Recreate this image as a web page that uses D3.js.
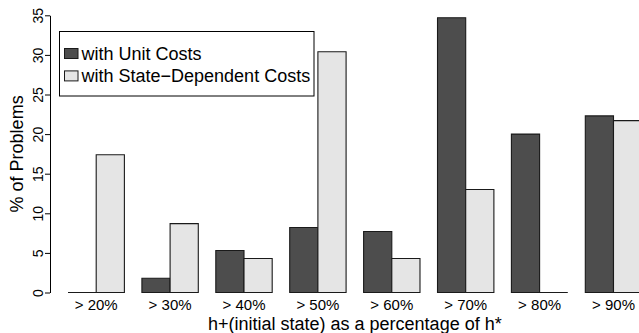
<!DOCTYPE html>
<html>
<head>
<meta charset="utf-8">
<script src="https://cdn.jsdelivr.net/npm/d3@7"></script>
<style>
  html, body { margin: 0; padding: 0; background: #fff; }
  svg { display: block; font-family: "Liberation Sans", Arial, Helvetica, sans-serif; }
</style>
</head>
<body>
<svg id="chart" width="639" height="333"></svg>
<script>
// ---- data ----
const categories = ["> 20%", "> 30%", "> 40%", "> 50%", "> 60%", "> 70%", "> 80%", "> 90%"];
const seriesNames = ["with Unit Costs", "with State\u2212Dependent Costs"];
const unitCosts = [0, 1.8, 5.3, 8.2, 7.7, 34.7, 20.0, 22.3];
const stateDependentCosts = [17.4, 8.7, 4.3, 30.4, 4.3, 13.0, 0, 21.7];
const yTicks = [0, 5, 10, 15, 20, 25, 30, 35];
const yTitle = "% of Problems";
const xTitle = "h+(initial state) as a percentage of h*";
const colors = ["#4d4d4d", "#e5e5e5"];

const seriesValues = [unitCosts, stateDependentCosts];

// ---- layout ----
const svg = d3.select("#chart");
const axisX = 50;
const y = d3.scaleLinear().domain([0, 35]).range([292.5, 15.3]);

const x0 = d3.scaleBand()
  .domain(categories)
  .range([59.25, 650.45])
  .paddingInner(0.237)
  .paddingOuter(0.1185);

const x1 = d3.scaleBand()
  .domain(d3.range(seriesValues.length))
  .range([0, x0.bandwidth()])
  .padding(0);

// ---- bars ----
const groups = svg.append("g").selectAll("g")
  .data(categories)
  .join("g")
  .attr("transform", d => `translate(${x0(d)},0)`);

groups.selectAll("path")
  .data((c, i) => seriesValues.map((vals, s) => ({ s, v: vals[i] })))
  .join("path")
  .attr("d", d => {
    const xa = x1(d.s), xb = x1(d.s) + x1.bandwidth();
    const ya = y(0), yb = y(d.v);
    return `M${xa},${ya}L${xa},${yb}L${xb},${yb}L${xb},${ya}Z`;
  })
  .attr("fill", d => colors[d.s])
  .attr("stroke", "#1a1a1a")
  .attr("stroke-width", 1.1);

// ---- y axis ----
const yAxis = svg.append("g")
  .attr("transform", `translate(${axisX},0)`)
  .call(d3.axisLeft(y).tickValues(yTicks).tickSize(5).tickSizeOuter(0).tickFormat(d3.format("d")));
yAxis.select(".domain").attr("stroke", "#000").attr("stroke-width", 1);
yAxis.selectAll(".tick line").attr("stroke", "#000").attr("stroke-width", 1);
yAxis.selectAll(".tick text")
  .attr("x", 0).attr("y", 0).attr("dy", 0)
  .attr("transform", "translate(-7,0) rotate(-90)")
  .attr("text-anchor", "middle")
  .attr("fill", "#000")
  .style("font-size", "14px")
  .style("font-family", "'Liberation Sans', Arial, sans-serif");

// ---- x category labels ----
svg.append("g").selectAll("text")
  .data(categories)
  .join("text")
  .attr("x", d => x0(d) + x0.bandwidth() / 2)
  .attr("y", 310)
  .attr("text-anchor", "middle")
  .style("font-size", "15px")
  .text(d => d);

// ---- titles ----
svg.append("text")
  .attr("x", (x0.range()[0] + x0.range()[1]) / 2)
  .attr("y", 330)
  .attr("text-anchor", "middle")
  .style("font-size", "18px")
  .text(xTitle);

svg.append("text")
  .attr("transform", `translate(23,${(y(0) + y(35)) / 2}) rotate(-90)`)
  .attr("text-anchor", "middle")
  .style("font-size", "18px")
  .text(yTitle);

// ---- legend ----
const legend = svg.append("g");
legend.append("rect")
  .attr("x", 59.5).attr("y", 31.5)
  .attr("width", 254.5).attr("height", 64.5)
  .attr("fill", "#fff").attr("stroke", "#000").attr("stroke-width", 1);
const items = legend.selectAll("g.item")
  .data(seriesNames)
  .join("g")
  .attr("class", "item")
  .attr("transform", (d, i) => `translate(0,${i * 22.4})`);
items.append("rect")
  .attr("x", 64.5).attr("y", 48.5)
  .attr("width", 13.5).attr("height", 10)
  .attr("fill", (d, i) => colors[i])
  .attr("stroke", "#1a1a1a").attr("stroke-width", 1);
items.append("text")
  .attr("x", 81.5).attr("y", 59.5)
  .style("font-size", "18px")
  .text(d => d);
</script>
</body>
</html>
